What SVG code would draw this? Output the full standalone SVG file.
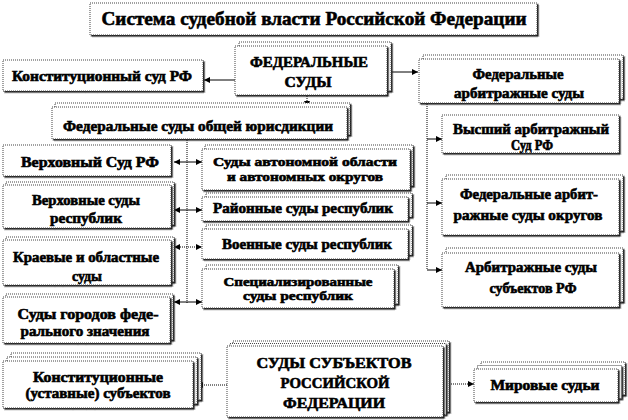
<svg xmlns="http://www.w3.org/2000/svg" width="628" height="420" viewBox="0 0 628 420">
<defs>
<filter id="sh" x="-5%" y="-5%" width="115%" height="130%">
<feDropShadow dx="1.5" dy="1.5" stdDeviation="0" flood-color="#222"/>
</filter>
<marker id="ah" viewBox="0 0 8 8" refX="8" refY="4" markerWidth="7" markerHeight="6" markerUnits="userSpaceOnUse" orient="auto-start-reverse">
<path d="M0,0 L8,4 L0,8 Z" fill="#000"/>
</marker>
<style>
.c{fill:#fff;stroke:#444;stroke-width:1;stroke-dasharray:1 1;filter:url(#sh)}
.t text{font-family:'Liberation Serif','Times New Roman','DejaVu Serif',serif;font-weight:bold;font-size:14px;text-anchor:middle;fill:#000;stroke:#000;stroke-width:0.6}
.t .big{font-size:19px}
.t .cap{font-size:15px}
.t .sm{font-size:13px}
.l{stroke:#000;stroke-width:1;fill:none}
.d{stroke:#000;stroke-width:1;fill:none;stroke-dasharray:1 1}
</style>
</defs>
<g id="connectors">
<line class="l" x1="235" y1="80" x2="204" y2="80" marker-end="url(#ah)"/>
<line class="l" x1="390" y1="72" x2="418" y2="72" marker-end="url(#ah)"/>
<line class="d" x1="307" y1="96" x2="307" y2="107" marker-end="url(#ah)"/>
<line class="d" x1="187" y1="140" x2="187" y2="303"/>
<line class="l" x1="174" y1="162" x2="202" y2="162" marker-start="url(#ah)" marker-end="url(#ah)"/>
<line class="l" x1="174" y1="210" x2="202" y2="210" marker-start="url(#ah)" marker-end="url(#ah)"/>
<line class="d" x1="174" y1="247" x2="202" y2="247" marker-start="url(#ah)" marker-end="url(#ah)"/>
<line class="l" x1="174" y1="302" x2="202" y2="302" marker-start="url(#ah)" marker-end="url(#ah)"/>
<line class="d" x1="427" y1="104" x2="427" y2="270"/>
<line class="l" x1="427" y1="139" x2="442" y2="139" marker-end="url(#ah)"/>
<line class="l" x1="427" y1="203" x2="442" y2="203" marker-end="url(#ah)"/>
<line class="l" x1="427" y1="270" x2="442" y2="270" marker-end="url(#ah)"/>
<line class="d" x1="227" y1="385" x2="197" y2="385" marker-end="url(#ah)"/>
<line class="d" x1="445" y1="384" x2="474" y2="384" marker-end="url(#ah)"/>
</g>
<g class="t">
<g id="title">
<rect class="c" x="90" y="3" width="447" height="32"/>
<text class="big" x="314" y="25" textLength="425" lengthAdjust="spacingAndGlyphs">Система судебной власти Российской Федерации</text>
</g>
<g id="federal">
<rect class="c" x="239" y="42" width="152" height="49"/>
<rect class="c" x="235" y="46" width="152" height="49"/>
<text class="cap" x="309" y="67" textLength="118" lengthAdjust="spacingAndGlyphs">ФЕДЕРАЛЬНЫЕ</text>
<text class="cap" x="308" y="87" textLength="47" lengthAdjust="spacingAndGlyphs">СУДЫ</text>
</g>
<g id="konst">
<rect class="c" x="3" y="60" width="200" height="31"/>
<text x="102" y="81" textLength="180" lengthAdjust="spacingAndGlyphs">Конституционный суд РФ</text>
</g>
<g id="arb">
<rect class="c" x="423" y="55" width="200" height="44"/>
<rect class="c" x="419" y="59" width="200" height="44"/>
<text x="518" y="79" textLength="91" lengthAdjust="spacingAndGlyphs">Федеральные</text>
<text x="519" y="98" textLength="130" lengthAdjust="spacingAndGlyphs">арбитражные суды</text>
</g>
<g id="obsh">
<rect class="c" x="55" y="103" width="295" height="32"/>
<rect class="c" x="52" y="107" width="295" height="32"/>
<text x="198" y="131" textLength="270" lengthAdjust="spacingAndGlyphs">Федеральные суды общей юрисдикции</text>
</g>
<g id="vyssh">
<rect class="c" x="442" y="115" width="177" height="38"/>
<text x="531" y="134" textLength="156" lengthAdjust="spacingAndGlyphs">Высший арбитражный</text>
<text x="532" y="150" textLength="42" lengthAdjust="spacingAndGlyphs">Суд РФ</text>
</g>
<g id="fedarbokr">
<rect class="c" x="446" y="175" width="177" height="56"/>
<rect class="c" x="442" y="179" width="177" height="56"/>
<text x="529" y="199" textLength="138" lengthAdjust="spacingAndGlyphs">Федеральные арбит-</text>
<text x="528" y="220" textLength="149" lengthAdjust="spacingAndGlyphs">ражные суды округов</text>
</g>
<g id="arbsub">
<rect class="c" x="446" y="248" width="177" height="54"/>
<rect class="c" x="442" y="253" width="177" height="54"/>
<text x="531" y="272" textLength="132" lengthAdjust="spacingAndGlyphs">Арбитражные суды</text>
<text x="533" y="293" textLength="87" lengthAdjust="spacingAndGlyphs">субъектов РФ</text>
</g>
<g id="verh">
<rect class="c" x="3" y="145" width="168" height="31"/>
<text x="90" y="167" textLength="138" lengthAdjust="spacingAndGlyphs">Верховный Суд РФ</text>
</g>
<g id="verhresp">
<rect class="c" x="6" y="182" width="168" height="43"/>
<rect class="c" x="3" y="185" width="168" height="43"/>
<text x="86" y="205" textLength="108" lengthAdjust="spacingAndGlyphs">Верховные суды</text>
<text x="86" y="223" textLength="72" lengthAdjust="spacingAndGlyphs">республик</text>
</g>
<g id="kraev">
<rect class="c" x="6" y="237" width="168" height="45"/>
<rect class="c" x="3" y="240" width="168" height="45"/>
<text x="86" y="262" textLength="146" lengthAdjust="spacingAndGlyphs">Краевые и областные</text>
<text x="87" y="281" textLength="30" lengthAdjust="spacingAndGlyphs">суды</text>
</g>
<g id="gorod">
<rect class="c" x="6" y="294" width="167" height="46"/>
<rect class="c" x="3" y="297" width="167" height="46"/>
<text x="88" y="319" textLength="141" lengthAdjust="spacingAndGlyphs">Суды городов феде-</text>
<text x="85" y="336" textLength="129" lengthAdjust="spacingAndGlyphs">рального значения</text>
</g>
<g id="avton">
<rect class="c" x="205" y="145" width="208" height="41"/>
<rect class="c" x="202" y="149" width="208" height="41"/>
<text class="sm" x="305" y="166" textLength="184" lengthAdjust="spacingAndGlyphs">Суды автономной области</text>
<text class="sm" x="305" y="181" textLength="156" lengthAdjust="spacingAndGlyphs">и автономных округов</text>
</g>
<g id="rayon">
<rect class="c" x="206" y="193" width="206" height="24"/>
<rect class="c" x="202" y="197" width="206" height="24"/>
<text x="303" y="213" textLength="180" lengthAdjust="spacingAndGlyphs">Районные суды республик</text>
</g>
<g id="voen">
<rect class="c" x="206" y="225" width="206" height="30"/>
<rect class="c" x="202" y="229" width="206" height="30"/>
<text x="307" y="249" textLength="170" lengthAdjust="spacingAndGlyphs">Военные суды республик</text>
</g>
<g id="spec">
<rect class="c" x="206" y="265" width="192" height="39"/>
<rect class="c" x="202" y="269" width="192" height="39"/>
<text class="sm" x="298" y="286" textLength="149" lengthAdjust="spacingAndGlyphs">Специализированные</text>
<text class="sm" x="298" y="300" textLength="110" lengthAdjust="spacingAndGlyphs">суды республик</text>
</g>
<g id="konstsub">
<rect class="c" x="11" y="353" width="190" height="47"/>
<rect class="c" x="7" y="357" width="190" height="47"/>
<rect class="c" x="3" y="361" width="190" height="47"/>
<text x="98" y="382" textLength="130" lengthAdjust="spacingAndGlyphs">Конституционные</text>
<text x="98" y="398" textLength="145" lengthAdjust="spacingAndGlyphs">(уставные) субъектов</text>
</g>
<g id="subj">
<rect class="c" x="233" y="341" width="216" height="71"/>
<rect class="c" x="230" y="343.5" width="216" height="71"/>
<rect class="c" x="227" y="346" width="216" height="71"/>
<text class="cap" x="334" y="368" textLength="155" lengthAdjust="spacingAndGlyphs">СУДЫ СУБЪЕКТОВ</text>
<text class="cap" x="335" y="388" textLength="109" lengthAdjust="spacingAndGlyphs">РОССИЙСКОЙ</text>
<text class="cap" x="334" y="408" textLength="102" lengthAdjust="spacingAndGlyphs">ФЕДЕРАЦИИ</text>
</g>
<g id="mir">
<rect class="c" x="481" y="362" width="144" height="33"/>
<rect class="c" x="477.5" y="365.5" width="144" height="33"/>
<rect class="c" x="474" y="369" width="144" height="33"/>
<text x="545" y="390" textLength="109" lengthAdjust="spacingAndGlyphs">Мировые судьи</text>
</g>
</g>
</svg>
